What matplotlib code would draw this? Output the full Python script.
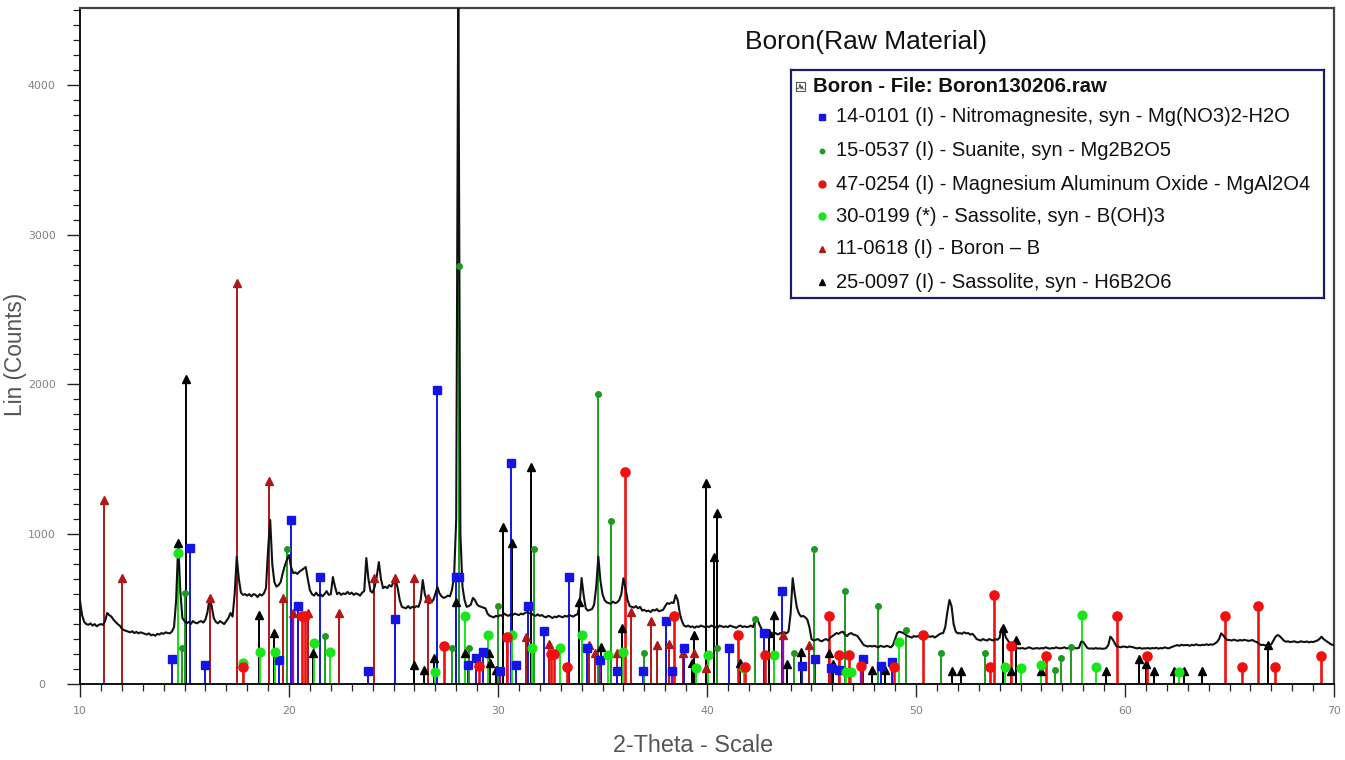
import numpy as np
import matplotlib
matplotlib.use("Agg")
import matplotlib.pyplot as plt
from matplotlib.ticker import MultipleLocator
from matplotlib.patches import Rectangle

# ---------------- data ----------------
scan_start = 10.0
scan_step = 0.1
raw_counts = [
    555, 460, 415, 400, 395, 405, 390, 400, 385, 395,
    400, 395, 420, 474, 460, 450, 430, 415, 400, 390,
    370, 360, 355, 350, 345, 352, 340, 348, 338, 345,
    340, 335, 330, 338, 325, 330, 322, 335, 330, 340,
    335, 345, 340, 338, 350, 380, 560, 940, 620, 440,
    420, 405, 415, 400, 420, 410, 405, 415, 420, 410,
    430, 480, 574, 520, 440, 415, 405, 420, 410, 400,
    420, 440, 474, 450, 600, 850, 700, 610, 595, 600,
    590, 600, 585, 600, 595, 580, 600, 590, 605, 640,
    900, 1095, 800, 680, 650, 660, 680, 740, 790, 830,
    861, 780, 740, 745, 735, 750, 760, 770, 781, 700,
    627, 600, 590, 610, 590, 600, 585, 600, 620, 595,
    600, 714, 650, 600, 610, 595, 605, 600, 615, 600,
    610, 595, 605, 600, 590, 610, 620, 841, 700, 620,
    610, 650, 720, 814, 700, 640, 650, 640, 660, 650,
    680, 694, 640, 560, 515, 510, 505, 520, 505, 515,
    510, 520, 515, 560, 694, 600, 560, 540, 545, 560,
    600, 648, 605, 585, 575, 580, 590, 585, 630, 720,
    1100, 4700, 1000, 650, 560, 515, 520, 530, 575, 560,
    530, 520, 515, 510, 505, 470, 455, 450, 445, 455,
    450, 460, 455, 470, 460, 455, 465, 460, 470, 465,
    460, 470, 465, 475, 480, 472, 470, 460, 455, 465,
    455, 460, 450, 445, 455, 450, 440, 450, 445, 455,
    450, 445, 455, 450, 460, 455, 450, 460, 465, 520,
    707, 590, 505, 490, 495, 500, 530, 650, 850, 690,
    600, 560, 545, 540, 535, 550, 540, 545, 560, 600,
    706, 640, 560, 520, 515, 510, 520, 505, 515, 490,
    495, 485, 490, 480, 495, 490, 500, 485, 490, 495,
    520, 540, 535, 545, 540, 594, 560, 470, 420, 390,
    383, 390, 380, 385, 375, 385, 380, 390, 385, 380,
    385, 380, 390, 385, 380, 375, 390, 385, 380, 385,
    380, 390, 385, 380, 375, 385, 390, 380, 385, 380,
    383, 390, 380, 420, 438, 400, 370, 345, 340, 335,
    340, 335, 345, 338, 330, 340, 335, 345, 338, 350,
    470, 706, 600, 510, 470, 450, 455, 445, 430, 380,
    300, 290, 295, 300, 290, 285, 295, 300, 290, 310,
    320, 330, 340, 335, 345, 349, 330, 320, 335, 340,
    330, 327, 320, 300, 280, 260, 255, 250, 255, 250,
    255, 250, 245, 255, 250, 248, 255, 250, 245, 260,
    300, 340, 349, 345, 340, 330, 320, 315, 310, 320,
    316, 320, 310, 315, 320, 310, 318, 315, 320, 310,
    320, 330, 338, 340, 380, 480, 561, 520, 400, 350,
    338, 340, 335, 345, 338, 340, 330, 335, 320, 300,
    295, 290, 300, 294, 290, 300, 295, 290, 300, 295,
    310, 372, 360, 310, 290, 270, 250, 245, 240, 238,
    238, 240, 235, 238, 245, 240, 235, 238, 240, 236,
    240, 238, 245, 240, 236, 240, 238, 245, 240, 238,
    240, 245, 238, 240, 250, 245, 240, 238, 242, 282,
    282, 260, 240, 236, 238, 235, 240, 236, 238, 235,
    236, 240, 260, 316, 300, 275, 250, 249, 245, 250,
    249, 245, 250, 248, 245, 240, 238, 242, 236, 238,
    238, 240, 236, 240, 238, 242, 236, 240, 238, 245,
    240, 238, 245, 250, 255, 260, 255, 262, 258, 260,
    260, 255, 262, 258, 265, 260, 258, 262, 260, 265,
    260, 265, 262, 270, 280, 300, 338, 325, 305, 294,
    294, 290, 296, 292, 288, 294, 290, 295, 292, 288,
    290, 294, 285, 280, 270, 260, 262, 258, 260, 262,
    265, 290, 315, 327, 320, 305, 290, 282, 285, 280,
    282, 285, 280, 278, 285, 282, 280, 284, 278, 282,
    280, 285, 290, 300, 316, 300, 290, 280, 270, 262,
    260,
]

# 14-0101 Nitromagnesite (blue squares)
blue_pos = [14.42, 15.24, 16.00, 19.52, 20.08, 20.45, 21.50, 23.77, 25.06, 27.09,
            27.97, 28.13, 28.58, 28.93, 29.28, 30.08, 30.60, 30.88, 31.43, 32.20,
            33.40, 34.25, 34.90, 35.68, 36.96, 38.03, 38.32, 38.91, 41.03, 42.71,
            43.59, 44.53, 45.17, 45.94, 46.30, 47.45, 48.33, 48.84]
blue_int = [165, 910, 127, 160, 1095, 523, 716, 89, 432, 1963,
            716, 716, 127, 172, 211, 87, 1478, 127, 523, 354,
            716, 243, 160, 87, 87, 420, 87, 243, 243, 338,
            623, 122, 165, 105, 93, 167, 122, 149]
# 15-0537 Suanite (dark green dots)
dkgreen_pos = [14.90, 15.00, 19.89, 21.71, 27.81, 28.13, 28.60, 30.01, 31.72, 34.80,
               35.40, 36.99, 40.47, 42.31, 44.15, 45.14, 46.62, 48.17, 49.50, 51.21,
               53.28, 56.64, 56.96, 57.44]
dkgreen_int = [243, 607, 899, 320, 243, 2790, 243, 521, 899, 1934,
               1090, 205, 243, 432, 205, 899, 621, 521, 360, 205,
               205, 93, 172, 249]
# 47-0254 Magnesium Aluminum Oxide (red circles)
red_pos = [17.80, 20.62, 20.78, 27.41, 29.10, 30.41, 32.52, 32.68, 33.32, 36.08,
           38.43, 41.46, 41.80, 42.79, 45.83, 46.30, 46.81, 47.38, 48.97, 50.33,
           53.52, 53.73, 54.56, 56.24, 59.64, 61.06, 64.78, 65.62, 66.38, 67.18,
           69.38]
red_int = [116, 456, 456, 256, 117, 316, 198, 198, 116, 1417,
           454, 327, 112, 194, 454, 194, 194, 120, 116, 327,
           116, 594, 256, 187, 454, 187, 454, 116, 521, 116,
           187]
# 30-0199 Sassolite B(OH)3 (bright green circles)
ltgreen_pos = [14.71, 17.78, 18.61, 19.34, 21.18, 21.98, 26.98, 28.41, 29.53, 30.65,
               31.64, 32.97, 34.01, 35.24, 36.00, 39.47, 40.06, 41.75, 43.19, 46.67,
               46.90, 49.21, 54.28, 55.00, 55.97, 57.95, 58.59, 62.60]
ltgreen_int = [874, 138, 216, 216, 276, 216, 82, 454, 327, 327,
               243, 243, 327, 194, 211, 105, 194, 105, 194, 82,
               82, 282, 112, 105, 127, 461, 116, 80]
# 11-0618 Boron (dark red triangles)
dkred_pos = [11.17, 12.03, 16.20, 17.52, 19.06, 19.71, 20.17, 20.89, 22.38, 24.06,
             25.09, 26.00, 26.64, 30.41, 31.32, 32.44, 34.36, 34.64, 35.67, 36.35,
             37.31, 37.60, 38.19, 38.83, 39.39, 39.97, 43.62, 44.90]
dkred_int = [1228, 706, 572, 2677, 1355, 572, 472, 472, 472, 706,
             706, 706, 572, 316, 316, 265, 260, 205, 205, 480,
             420, 260, 265, 205, 205, 105, 327, 260]
# 25-0097 Sassolite H6B2O6 (black triangles)
black_pos = [14.68, 15.05, 18.58, 19.30, 21.13, 25.97, 26.45, 26.93, 27.97, 28.41,
             29.57, 29.64, 29.90, 30.23, 30.65, 31.56, 33.88, 34.92, 35.92, 39.28,
             39.36, 39.95, 40.35, 40.47, 41.60, 42.98, 43.22, 43.83, 44.50, 45.86,
             46.05, 47.90, 48.50, 51.73, 52.16, 54.16, 54.53, 54.80, 55.96, 59.08,
             60.68, 61.00, 61.40, 62.36, 62.84, 63.70, 66.86]
black_int = [943, 2034, 461, 338, 209, 127, 93, 172, 549, 205,
             205, 138, 93, 1046, 943, 1451, 549, 249, 372, 138,
             327, 1344, 850, 1139, 138, 338, 461, 131, 216, 209,
             131, 93, 93, 89, 89, 372, 89, 294, 89, 89,
             165, 131, 89, 89, 89, 89, 260]
# overlapping sticks rendered purple
purple_pos = [20.17, 30.08, 34.90, 38.32, 43.62, 47.38]
purple_int = [472, 87, 160, 87, 327, 120]

legend_header = "Boron - File: Boron130206.raw"
legend_labels = [
    "14-0101 (I) - Nitromagnesite, syn - Mg(NO3)2-H2O",
    "15-0537 (I) - Suanite, syn - Mg2B2O5",
    "47-0254 (I) - Magnesium Aluminum Oxide - MgAl2O4",
    "30-0199 (*) - Sassolite, syn - B(OH)3",
    "11-0618 (I) - Boron \u2013 B",
    "25-0097 (I) - Sassolite, syn - H6B2O6",
]

# ---------------- styling ----------------
FONT = ["Liberation Sans", "DejaVu Sans"]
plt.rcParams["font.family"] = FONT

W, H = 1345, 760
fig = plt.figure(figsize=(W / 100, H / 100), dpi=100)
fig.patch.set_facecolor("white")

AX_L, AX_R, AX_T, AX_B = 80, 1334, 8, 684
ax = fig.add_axes([AX_L / W, 1 - AX_B / H, (AX_R - AX_L) / W, (AX_B - AX_T) / H])

theta = np.round(scan_start + scan_step * np.arange(len(raw_counts)), 2)

series = [
    (dkred_pos, dkred_int, "#b01818", "^", 6.3, 1.4),
    (black_pos, black_int, "#000000", "^", 5.8, 1.4),
    (blue_pos, blue_int, "#1414e6", "s", 6.3, 1.4),
    (dkgreen_pos, dkgreen_int, "#1f9a1f", "o", 4.0, 1.4),
    (ltgreen_pos, ltgreen_int, "#19e619", "o", 6.3, 1.4),
    (red_pos, red_int, "#f01010", "o", 6.6, 1.9),
]
for pos, inten, col, mk, ms, lw in series:
    ax.vlines(pos, 0, inten, colors=col, lw=lw, zorder=2)
ax.vlines(purple_pos, 0, purple_int, colors="#8a10a8", lw=1.7, zorder=2.5)

ax.plot(theta, raw_counts, color="#111111", lw=1.5, zorder=3)

for pos, inten, col, mk, ms, lw in series:
    ax.plot(pos, inten, linestyle="none", marker=mk, ms=ms, color=col,
            markeredgecolor=col, zorder=4)

ax.set_xlim(10, 70)
ax.set_ylim(0, 4513)
ax.xaxis.set_major_locator(MultipleLocator(10))
ax.xaxis.set_minor_locator(MultipleLocator(1))
ax.yaxis.set_major_locator(MultipleLocator(1000))
ax.yaxis.set_minor_locator(MultipleLocator(100))
ax.set_yticks([0, 1000, 2000, 3000, 4000])

ax.tick_params(axis="x", which="major", length=9.5, width=1.0, direction="out",
               pad=6, labelsize=7.8, labelcolor="#808080", color="#222222")
ax.tick_params(axis="x", which="minor", length=5, width=0.9, direction="out",
               color="#222222")
ax.tick_params(axis="y", which="major", length=9.5, width=1.0, direction="out",
               pad=18, labelsize=7.8, labelcolor="#808080", color="#222222")
ax.tick_params(axis="y", which="minor", length=5, width=0.9, direction="out",
               color="#222222")
for lab in ax.get_xticklabels() + ax.get_yticklabels():
    lab.set_family("DejaVu Sans")
for lab in ax.get_yticklabels():
    lab.set_horizontalalignment("center")

for s in ("left", "bottom"):
    ax.spines[s].set_color("#111111")
    ax.spines[s].set_linewidth(1.4)
for s in ("top", "right"):
    ax.spines[s].set_color("#444444")
    ax.spines[s].set_linewidth(1.6)

fig.text(866 / W, 1 - 42 / H, "Boron(Raw Material)", fontsize=19, ha="center",
         va="center", color="#111111")
fig.text(16 / W, 1 - 354 / H, "Lin (Counts)", fontsize=16.3, rotation=90,
         ha="center", va="center", color="#555555")
fig.text(693 / W, 1 - 745 / H, "2-Theta - Scale", fontsize=16.8, ha="center",
         va="center", color="#555555")

# ---------------- legend box ----------------
LX0, LX1, LY0, LY1 = 791, 1324, 70, 298
lax = fig.add_axes([LX0 / W, 1 - LY1 / H, (LX1 - LX0) / W, (LY1 - LY0) / H])
lax.set_xlim(LX0, LX1)
lax.set_ylim(LY1, LY0)
lax.set_xticks([])
lax.set_yticks([])
lax.set_facecolor("white")
for s in lax.spines.values():
    s.set_color("#1c1c6a")
    s.set_linewidth(1.6)

lax.add_patch(Rectangle((796, 82), 9, 9, fill=False, edgecolor="#555555", lw=0.8))
lax.plot([797, 799, 800, 801, 802, 803, 804], [89, 88, 84, 89, 86, 89, 89],
         color="#333333", lw=0.6)
lax.text(813, 86, legend_header, fontsize=14.7, fontweight="bold", va="center",
         ha="left", color="#111111")

row_y = [117, 151, 184, 216, 249, 282]
leg_style = [("s", "#1414e6", 4.5), ("o", "#1f9a1f", 3.2), ("o", "#f01010", 5.0),
             ("o", "#19e619", 5.0), ("^", "#b01818", 4.5), ("^", "#000000", 4.5)]
for y, lab, (mk, col, ms) in zip(row_y, legend_labels, leg_style):
    lax.plot([822], [y], marker=mk, ms=ms, color=col, linestyle="none")
    lax.text(836, y, lab, fontsize=14.5, va="center", ha="left", color="#111111")

fig.savefig("out.png", dpi=100)
